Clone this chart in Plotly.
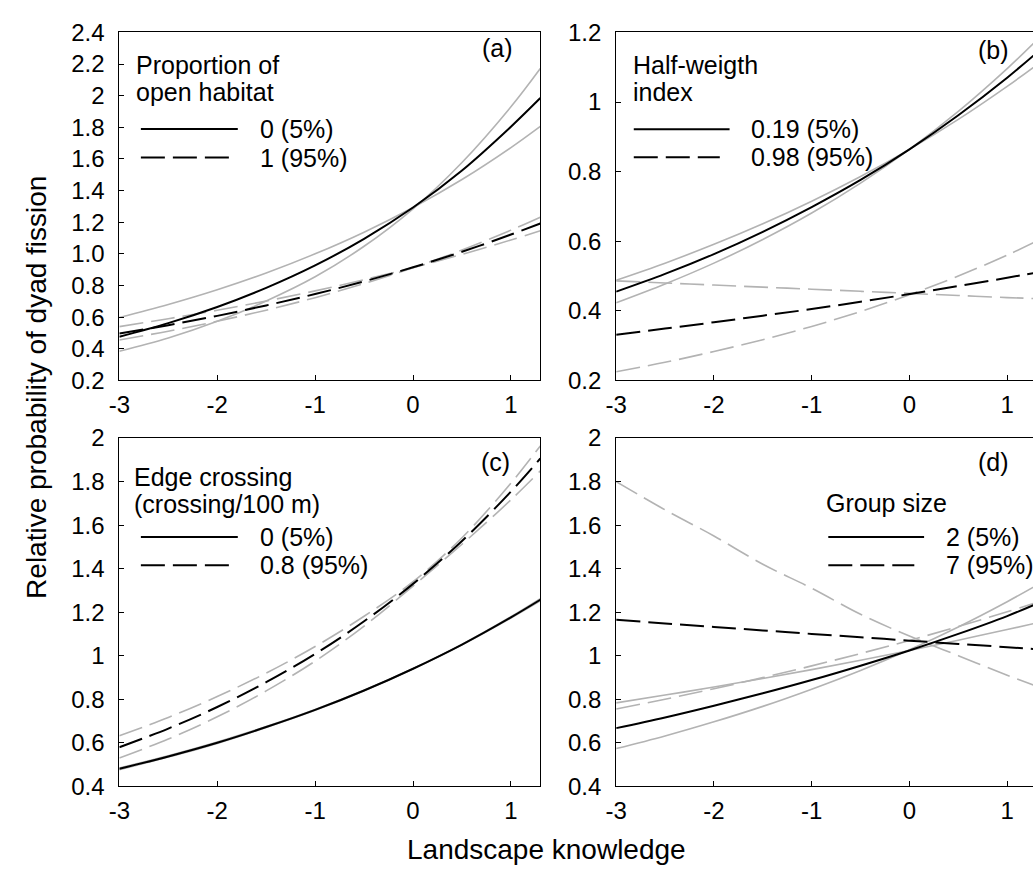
import plotly.graph_objects as go

# ---------------- data ----------------
x_vals = [-3, -2.5, -2, -1.5, -1, -0.5, 0, 0.5, 1, 1.3]

# Panel (a): Proportion of open habitat
a_lvl0_mean = [0.476, 0.562, 0.664, 0.785, 0.927, 1.095, 1.293, 1.527, 1.804, 1.985]
a_lvl0_ci1 = [0.598, 0.680, 0.773, 0.879, 1.000, 1.137, 1.293, 1.470, 1.672, 1.806]
a_lvl0_ci2 = [0.384, 0.468, 0.574, 0.702, 0.855, 1.048, 1.285, 1.578, 1.930, 2.172]
a_lvl1_mean = [0.496, 0.549, 0.608, 0.674, 0.746, 0.826, 0.915, 1.013, 1.122, 1.192]
a_lvl1_ci1 = [0.540, 0.590, 0.643, 0.702, 0.766, 0.837, 0.913, 0.997, 1.088, 1.146]
a_lvl1_ci2 = [0.455, 0.511, 0.574, 0.644, 0.723, 0.812, 0.912, 1.024, 1.150, 1.232]

# Panel (b): Half-weigth index
b_lvl0_mean = [0.455, 0.506, 0.563, 0.627, 0.698, 0.776, 0.864, 0.962, 1.070, 1.141]
b_lvl0_ci1 = [0.488, 0.537, 0.591, 0.650, 0.715, 0.786, 0.864, 0.950, 1.045, 1.106]
b_lvl0_ci2 = [0.423, 0.477, 0.537, 0.605, 0.681, 0.767, 0.864, 0.973, 1.096, 1.177]
b_lvl1_mean = [0.331, 0.349, 0.367, 0.386, 0.405, 0.426, 0.448, 0.471, 0.495, 0.510]
b_lvl1_ci1 = [0.486, 0.480, 0.474, 0.468, 0.462, 0.456, 0.450, 0.444, 0.438, 0.435]
b_lvl1_ci2 = [0.225, 0.252, 0.283, 0.317, 0.355, 0.398, 0.446, 0.500, 0.560, 0.600]

# Panel (c): Edge crossing
c_lvl0_mean = [0.480, 0.537, 0.600, 0.672, 0.751, 0.840, 0.940, 1.051, 1.176, 1.257]
c_lvl0_ci1 = [0.484, 0.540, 0.603, 0.674, 0.753, 0.841, 0.940, 1.050, 1.173, 1.252]
c_lvl0_ci2 = [0.476, 0.534, 0.597, 0.670, 0.749, 0.839, 0.940, 1.052, 1.179, 1.262]
c_lvl1_mean = [0.579, 0.665, 0.764, 0.878, 1.008, 1.158, 1.330, 1.527, 1.754, 1.906]
c_lvl1_ci1 = [0.632, 0.716, 0.812, 0.920, 1.042, 1.181, 1.340, 1.542, 1.793, 1.964]
c_lvl1_ci2 = [0.530, 0.617, 0.719, 0.838, 0.975, 1.136, 1.320, 1.512, 1.716, 1.849]

# Panel (d): Group size
d_lvl0_mean = [0.667, 0.716, 0.770, 0.827, 0.888, 0.954, 1.024, 1.100, 1.182, 1.238]
d_lvl0_ci1 = [0.783, 0.819, 0.856, 0.895, 0.936, 0.979, 1.024, 1.071, 1.120, 1.150]
d_lvl0_ci2 = [0.573, 0.631, 0.696, 0.767, 0.846, 0.932, 1.027, 1.132, 1.248, 1.323]
d_lvl1_mean = [1.165, 1.148, 1.132, 1.116, 1.100, 1.085, 1.069, 1.054, 1.039, 1.030]
d_lvl1_ci1 = [1.800, 1.670, 1.550, 1.420, 1.310, 1.190, 1.090, 1.000, 0.910, 0.860]
d_lvl1_ci2 = [0.755, 0.800, 0.848, 0.899, 0.953, 1.010, 1.070, 1.134, 1.202, 1.244]

# titles / legend texts
panel_letters = ["(a)", "(b)", "(c)", "(d)"]
legend_titles = ["Proportion of<br>open habitat", "Half-weigth<br>index",
                 "Edge crossing<br>(crossing/100 m)", "Group size"]
legend_labels = [["0 (5%)", "1 (95%)"], ["0.19 (5%)", "0.98 (95%)"],
                 ["0 (5%)", "0.8 (95%)"], ["2 (5%)", "7 (95%)"]]

x_ticks = [-3, -2, -1, 0, 1]
x_ticktext = ["-3", "-2", "-1", "0", "1"]
a_yticks = [0.2, 0.4, 0.6, 0.8, 1.0, 1.2, 1.4, 1.6, 1.8, 2.0, 2.2, 2.4]
a_yticktext = ["0.2", "0.4", "0.6", "0.8", "1.0", "1.2", "1.4", "1.6", "1.8", "2", "2.2", "2.4"]
b_yticks = [0.2, 0.4, 0.6, 0.8, 1.0, 1.2]
b_yticktext = ["0.2", "0.4", "0.6", "0.8", "1", "1.2"]
cd_yticks = [0.4, 0.6, 0.8, 1.0, 1.2, 1.4, 1.6, 1.8, 2.0]
cd_yticktext = ["0.4", "0.6", "0.8", "1", "1.2", "1.4", "1.6", "1.8", "2"]

x_title = "Landscape knowledge"
y_title = "Relative probability of dyad fission"

# ---------------- styling ----------------
FONT = "Liberation Sans, Arial, sans-serif"
GREY = "#b3b3b3"
DASH = "24px,8px"
TICK_FS = 24
LEG_FS = 25
TITLE_FS = 28

panels = [
    dict(xa="x", ya="y", series=[(a_lvl0_mean, a_lvl0_ci1, a_lvl0_ci2), (a_lvl1_mean, a_lvl1_ci1, a_lvl1_ci2)]),
    dict(xa="x2", ya="y2", series=[(b_lvl0_mean, b_lvl0_ci1, b_lvl0_ci2), (b_lvl1_mean, b_lvl1_ci1, b_lvl1_ci2)]),
    dict(xa="x3", ya="y3", series=[(c_lvl0_mean, c_lvl0_ci1, c_lvl0_ci2), (c_lvl1_mean, c_lvl1_ci1, c_lvl1_ci2)]),
    dict(xa="x4", ya="y4", series=[(d_lvl0_mean, d_lvl0_ci1, d_lvl0_ci2), (d_lvl1_mean, d_lvl1_ci1, d_lvl1_ci2)]),
]

fig = go.Figure()
for p in panels:
    # grey CI lines first
    for k, (mean, ci1, ci2) in enumerate(p["series"]):
        dash = "solid" if k == 0 else DASH
        for ci in (ci1, ci2):
            fig.add_trace(go.Scatter(x=x_vals, y=ci, mode="lines", xaxis=p["xa"], yaxis=p["ya"],
                                     line=dict(color=GREY, width=1.6, dash=dash, shape="spline"),
                                     showlegend=False, hoverinfo="skip"))
    for k, (mean, ci1, ci2) in enumerate(p["series"]):
        dash = "solid" if k == 0 else DASH
        fig.add_trace(go.Scatter(x=x_vals, y=mean, mode="lines", xaxis=p["xa"], yaxis=p["ya"],
                                 line=dict(color="black", width=2, dash=dash, shape="spline"),
                                 showlegend=False))

W, H = 1033, 879
left_dom = [109.5 / W, 535 / W]
right_dom = [611.7 / W, 1.0]
top_dom = [1 - 378 / H, 1 - 19 / H]
bot_dom = [1 - 796.7 / H, 1 - 437.5 / H]


def xaxis(domain, anchor, rng, mirror):
    return dict(domain=domain, anchor=anchor, range=rng, tickvals=x_ticks, ticktext=x_ticktext,
                ticks="inside", ticklen=5, tickwidth=1, tickcolor="black",
                showline=True, linecolor="black", linewidth=1, mirror=mirror,
                showgrid=False, zeroline=False, ticklabelstandoff=3,
                tickfont=dict(family=FONT, size=TICK_FS, color="black"))


def yaxis(domain, anchor, rng, tv, tt, mirror):
    return dict(domain=domain, anchor=anchor, range=rng, tickvals=tv, ticktext=tt,
                ticks="inside", ticklen=5, tickwidth=1, tickcolor="black",
                showline=True, linecolor="black", linewidth=1, mirror=mirror,
                showgrid=False, zeroline=False, ticklabelstandoff=9,
                tickfont=dict(family=FONT, size=TICK_FS, color="black"))


right_end = -3 + (W - 611.7) / 98.8

fig.update_layout(
    width=W, height=H, autosize=False,
    margin=dict(l=0, r=0, t=0, b=0),
    paper_bgcolor="white", plot_bgcolor="white",
    font=dict(family=FONT, color="black"),
    showlegend=False,
    xaxis=xaxis(left_dom, "y", [-3, 1.3], True),
    yaxis=yaxis(top_dom, "x", [0.2, 2.4], a_yticks, a_yticktext, True),
    xaxis2=xaxis(right_dom, "y2", [-3, right_end], True),
    yaxis2=yaxis(top_dom, "x2", [0.2, 1.2], b_yticks, b_yticktext, False),
    xaxis3=xaxis(left_dom, "y3", [-3, 1.3], True),
    yaxis3=yaxis(bot_dom, "x3", [0.4, 2.0], cd_yticks, cd_yticktext, True),
    xaxis4=xaxis(right_dom, "y4", [-3, right_end], True),
    yaxis4=yaxis(bot_dom, "x4", [0.4, 2.0], cd_yticks, cd_yticktext, False),
)

# ---------------- custom in-panel legends ----------------
# positions in data units of each panel
leg_pos = [
    dict(tx=-2.85, ty=[2.196, 2.022], lx0=-2.78, lx1=[-1.79, -1.88], ly=[1.789, 1.609], lab_x=-1.58, let=(0.86, 2.30)),
    dict(tx=-2.85, ty=[1.107, 1.028], lx0=-2.82, lx1=[-1.84, -1.94], ly=[0.922, 0.841], lab_x=-1.64, let=(0.86, 1.15)),
    dict(tx=-2.87, ty=[1.822, 1.697], lx0=-2.78, lx1=[-1.79, -1.88], ly=[1.545, 1.416], lab_x=-1.58, let=(0.84, 1.89)),
    dict(tx=-0.87, ty=[1.701], lx0=-0.83, lx1=[0.15, 0.05], ly=[1.545, 1.416], lab_x=0.35, let=(0.86, 1.89)),
]

annotations = []
shapes = []
for i, (p, lp) in enumerate(zip(panels, leg_pos)):
    xr, yr = p["xa"], p["ya"]
    title_lines = legend_titles[i].split("<br>")
    for line_txt, ty in zip(title_lines, lp["ty"]):
        annotations.append(dict(x=lp["tx"], y=ty, xref=xr, yref=yr, text=line_txt, showarrow=False,
                                xanchor="left", yanchor="middle", font=dict(family=FONT, size=LEG_FS, color="black")))
    for k in range(2):
        shapes.append(dict(type="line", xref=xr, yref=yr, x0=lp["lx0"], x1=lp["lx1"][k], y0=lp["ly"][k], y1=lp["ly"][k],
                           line=dict(color="black", width=2, dash="solid" if k == 0 else DASH)))
        annotations.append(dict(x=lp["lab_x"], y=lp["ly"][k], xref=xr, yref=yr, text=legend_labels[i][k], showarrow=False,
                                xanchor="left", yanchor="middle", font=dict(family=FONT, size=LEG_FS, color="black")))
    annotations.append(dict(x=lp["let"][0], y=lp["let"][1], xref=xr, yref=yr, text=panel_letters[i], showarrow=False,
                            xanchor="center", yanchor="middle", font=dict(family=FONT, size=LEG_FS, color="black")))

# axis titles
annotations.append(dict(x=541 / W, y=1 - 862 / H, xref="paper", yref="paper", text=x_title, showarrow=False,
                        xanchor="center", yanchor="middle", font=dict(family=FONT, size=TITLE_FS, color="black")))
annotations.append(dict(x=25 / W, y=1 - 385 / H, xref="paper", yref="paper", text=y_title, showarrow=False,
                        textangle=-90, xanchor="center", yanchor="middle", font=dict(family=FONT, size=TITLE_FS, color="black")))

fig.update_layout(annotations=annotations, shapes=shapes)

fig.write_html("out.html", config={"displayModeBar": False})
